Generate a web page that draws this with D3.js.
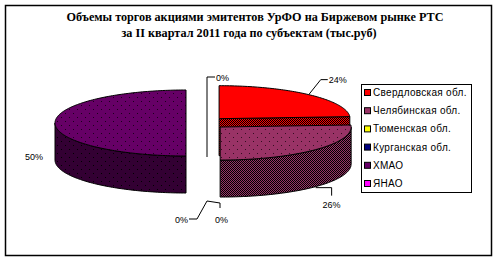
<!DOCTYPE html>
<html>
<head>
<meta charset="utf-8">
<script src="https://cdn.jsdelivr.net/npm/d3@7"></script>
<style>
  body { margin: 0; background: #fff; }
  svg { display: block; }
</style>
</head>
<body>
<div id="chart"></div>
<script>
// data
var categories = ["Свердловская обл.", "Челябинская обл.", "Тюменская обл.", "Курганская обл.", "ХМАО", "ЯНАО"];
var values = [24, 26, 0, 0, 50, 0];
var colors = ["#ff0000", "#993366", "#ffff00", "#000080", "#660066", "#ff00ff"];
var titleLines = ["Объемы торгов акциями эмитентов УрФО на Биржевом рынке РТС",
                  "за II квартал 2011 года по субъектам (тыс.руб)"];

var W = 499, H = 262;
var cx = 203, cy = 123, rx = 131, ry = 33, depth = 37;
var explode = [23.5, 23.5, 0, 0, 17, 0];

var svg = d3.select("#chart").append("svg").attr("width", W).attr("height", H);
var defs = svg.append("defs");

// dotted fill for tops
function dotPattern(id, bg, dot){
	var p = defs.append("pattern").attr("id", id).attr("patternUnits", "userSpaceOnUse")
		.attr("width", 8).attr("height", 8);
	p.append("rect").attr("width", 8).attr("height", 8).attr("fill", bg);
	p.append("rect").attr("x", 1).attr("y", 1).attr("width", 1).attr("height", 1).attr("fill", dot);
	p.append("rect").attr("x", 5).attr("y", 5).attr("width", 1).attr("height", 1).attr("fill", dot);
}
// checker dither for dark sides
function checkPattern(id, a, b){
	var p = defs.append("pattern").attr("id", id).attr("patternUnits", "userSpaceOnUse")
		.attr("width", 2).attr("height", 2);
	p.append("rect").attr("width", 2).attr("height", 2).attr("fill", a);
	p.append("rect").attr("width", 1).attr("height", 1).attr("fill", b);
	p.append("rect").attr("x", 1).attr("y", 1).attr("width", 1).attr("height", 1).attr("fill", b);
}
dotPattern("top0", colors[0], colors[0]);
dotPattern("top1", colors[1], "#330d1f");
dotPattern("top4", colors[4], "#1a001a");
checkPattern("side0", "#ff0000", "#000000");
checkPattern("side1", "#993366", "#000000");
dotPattern("side4", "#330033", "#000000");

// outer frame
svg.append("rect").attr("x", 5.5).attr("y", 5.5).attr("width", 486).attr("height", 250)
	.attr("fill", "none").attr("stroke", "#000").attr("stroke-width", 1.5);

// title
svg.append("g").selectAll("text")
	.data(titleLines).enter().append("text")
	.attr("x", function(d, i){ return i == 0 ? 255 : 249; })
	.attr("y", function(d, i){ return 21 + i * 16; })
	.attr("text-anchor", "middle")
	.style("font-family", "'Liberation Serif', 'Times New Roman', serif")
	.style("font-weight", "bold")
	.style("font-size", "12.2px")
	.text(function(d){ return d; });

var pie = d3.pie().sort(null).startAngle(0).endAngle(2 * Math.PI);
var arcs = pie(values);

function pt(c, a, dy){
	return [c.x + rx * Math.sin(a), c.y - ry * Math.cos(a) + (dy || 0)];
}
function arcPts(c, a0, a1, dy){
	var n = Math.max(2, Math.ceil((a1 - a0) / 0.02)), out = [];
	for (var k = 0; k <= n; k++) out.push(pt(c, a0 + (a1 - a0) * k / n, dy));
	return out;
}
var line = d3.line();

var slices = arcs.map(function(d, i){
	var mid = (d.startAngle + d.endAngle) / 2;
	var c = {x: cx + explode[i] * Math.sin(mid), y: cy - explode[i] * Math.cos(mid) * ry / rx};
	return {d: d, i: i, c: c, mid: mid};
}).filter(function(s){ return s.d.value > 0; });

slices.sort(function(a, b){ return a.c.y - b.c.y; });

var g = svg.append("g");
slices.forEach(function(s){
	var a0 = s.d.startAngle, a1 = s.d.endAngle, c = s.c;
	var sg = g.append("g");
	// end face
	if (Math.sin(a1) > 0.01) {
		var r = pt(c, a1);
		sg.append("path")
			.attr("d", line([[c.x, c.y], r, [r[0], r[1] + depth], [c.x, c.y + depth]]) + "Z")
			.attr("fill", "url(#side" + s.i + ")").attr("stroke", "#000").attr("stroke-width", 1);
	}
	if (Math.sin(a0) < -0.01) {
		var r0 = pt(c, a0);
		sg.append("path")
			.attr("d", line([[c.x, c.y], r0, [r0[0], r0[1] + depth], [c.x, c.y + depth]]) + "Z")
			.attr("fill", "url(#side" + s.i + ")").attr("stroke", "#000").attr("stroke-width", 1);
	}
	// outer side
	var s0 = Math.max(a0, Math.PI / 2), s1 = Math.min(a1, 3 * Math.PI / 2);
	if (s1 > s0) {
		var pts = arcPts(c, s0, s1, 0).concat(arcPts(c, s0, s1, depth).reverse());
		sg.append("path").attr("d", line(pts) + "Z")
			.attr("fill", "url(#side" + s.i + ")").attr("stroke", "#000").attr("stroke-width", 1);
	}
	// top
	var top = [[c.x, c.y]].concat(arcPts(c, a0, a1, 0));
	sg.append("path").attr("d", line(top) + "Z")
		.attr("fill", "url(#top" + s.i + ")").attr("stroke", "#000").attr("stroke-width", 1);
});

// data labels with leader lines
var lblFont = "'Liberation Sans', Arial, sans-serif";
var byIdx = {};
slices.forEach(function(s){ byIdx[s.i] = s; });

function label(x, y, txt, anchor){
	svg.append("text").attr("x", x).attr("y", y).attr("text-anchor", anchor || "start")
		.style("font-family", lblFont).style("font-size", "9px").text(txt);
}
function leader(pts){
	svg.append("path").attr("d", line(pts)).attr("fill", "none")
		.attr("stroke", "#000").attr("stroke-width", 1);
}
var pct = function(v){ return Math.round(v) + "%"; };

// Свердловская
var s0r = pt(byIdx[0].c, byIdx[0].mid);
leader([s0r, [s0r[0] + 12, s0r[1] - 15], [s0r[0] + 19, s0r[1] - 15]]);
label(s0r[0] + 20, s0r[1] - 11.5, pct(values[0]));
// Челябинская
var s1r = pt(byIdx[1].c, byIdx[1].mid, depth);
leader([[s1r[0], s1r[1] + 1], [s1r[0] + 16, s1r[1] + 1], [s1r[0] + 16, s1r[1] + 9]]);
label(s1r[0] + 16, s1r[1] + 21, pct(values[1]), "middle");
// ХМАО
var s4r = pt(byIdx[4].c, byIdx[4].mid);
label(s4r[0] - 12, s4r[1] + 37, pct(values[4]), "end");
// ЯНАО (0%, at 12 o'clock)
leader([[cx + 4, cy + 34], [cx + 4, cy - 46], [cx + 12, cy - 46]]);
label(cx + 13, cy - 42.5, pct(values[5]));
// Тюменская, Курганская (0%, at 6 o'clock)
leader([[cx - 14, cy + 96], [cx - 6, cy + 96], [cx + 4, cy + 78], [cx + 17, cy + 80], [cx + 17, cy + 85]]);
label(cx - 15, cy + 99.5, pct(values[2]), "end");
label(cx + 12, cy + 99.5, pct(values[3]));

// legend
var leg = svg.append("g").attr("transform", "translate(361,84)");
leg.append("rect").attr("x", 0.5).attr("y", 0.5).attr("width", 110).attr("height", 108)
	.attr("fill", "#fff").attr("stroke", "#000").attr("stroke-width", 1);
var items = leg.selectAll("g.item").data(categories).enter().append("g")
	.attr("transform", function(d, i){ return "translate(3," + (8.5 + i * 18.2) + ")"; });
items.append("rect").attr("x", 0.5).attr("y", -3).attr("width", 6).attr("height", 6)
	.attr("fill", function(d, i){ return colors[i]; }).attr("stroke", "#000").attr("stroke-width", 1);
items.append("text").attr("x", 9).attr("y", 3.5)
	.style("font-family", lblFont).style("font-size", "10px")
	.style("letter-spacing", "0.3px")
	.text(function(d){ return d; });
</script>
</body>
</html>
